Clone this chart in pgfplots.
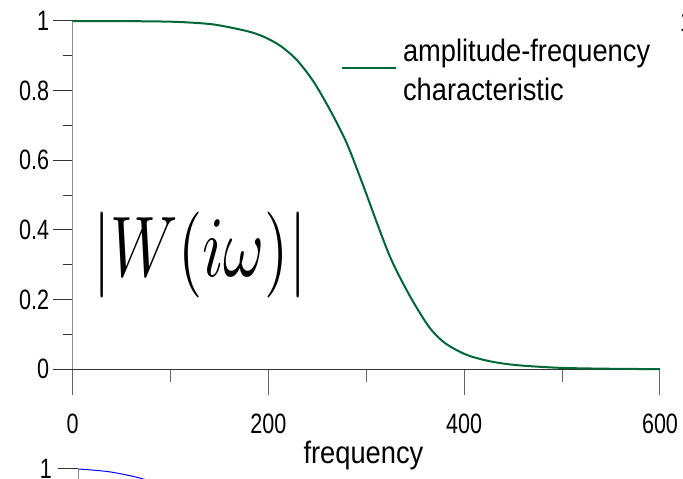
\documentclass[border=0pt]{standalone}
\usepackage{pgfplots}
\pgfplotsset{compat=1.18}
\usepackage{fontspec}
\setmainfont{Liberation Sans}
\newfontfamily\tickfont{Liberation Sans}[FakeStretch=0.77]
\newfontfamily\labfont{Liberation Sans}[FakeStretch=0.88]
\definecolor{curvegreen}{RGB}{0,104,55}
\begin{document}
\begin{tikzpicture}
\useasboundingbox (0,0) rectangle (683pt,479pt);
\clip (0,0) rectangle (683pt,479pt);
% x-axis part, curve, legend
\begin{axis}[
  at={(72.7pt,109.7pt)}, anchor=south west,
  scale only axis, width=587.3pt, height=348.3pt,
  xmin=0, xmax=600, ymin=0, ymax=1,
  axis x line*=bottom, axis y line=none,
  xtick={0,200,400,600}, minor xtick={100,300,500}, ytick=\empty,
  tick align=outside, major tick length=25.7pt, minor tick length=12.7pt,
  x axis line style={black!80, line width=1pt},
  xtick style={black!60, line width=1pt},
  /pgf/number format/assume math mode=true,
  ticklabel style={font=\tickfont\fontsize{28}{28}\selectfont},
  xticklabel style={yshift=-15pt},
  xlabel={frequency},
  xlabel style={at={(axis description cs:0.495,-0.2705)}, anchor=base, font=\labfont\fontsize{31}{31}\selectfont},
  clip=false,
  legend style={draw=none, fill=none, at={(axis description cs:0.4566,0.894)}, anchor=west,
    inner sep=0pt, font=\labfont\fontsize{31}{39}\selectfont, legend cell align=left},
  legend image code/.code={\draw[#1] (0pt,-10pt) -- (54pt,-10pt);},
]
\addplot[curvegreen, line width=2pt, smooth] coordinates {
(0,1) (50,0.9995) (80,0.999) (110,0.997) (144,0.990) (178,0.971) (195,0.955)
(212,0.929) (229,0.888) (246,0.826) (263,0.744) (280,0.649) (297,0.526)
(310.6,0.422) (324.2,0.323) (337.8,0.245) (351.4,0.177) (365,0.118) (378.6,0.079)
(392.3,0.055) (405.9,0.038) (426.3,0.023) (446.7,0.014) (467,0.009) (500,0.004)
(550,0.0015) (600,0.0005)
};
\addlegendentry{\begin{tabular}{@{\hspace{4pt}}l@{}}amplitude-frequency\\characteristic\end{tabular}}
\node at (axis description cs:0.2168,0.3296) {\scalebox{6.22}[8.6]{$|W(i\omega)|$}};
\end{axis}
% y-axis part
\begin{axis}[
  at={(72.7pt,109.7pt)}, anchor=south west,
  scale only axis, width=587.3pt, height=348.3pt,
  xmin=0, xmax=600, ymin=0, ymax=1,
  axis y line*=left, axis x line=none,
  xtick=\empty, ytick={0,0.2,0.4,0.6,0.8,1}, minor ytick={0.1,0.3,0.5,0.7,0.9},
  tick align=outside, major tick length=20pt, minor tick length=10pt,
  y axis line style={black!45, line width=1pt},
  ytick style={black!80, line width=1pt},
  /pgf/number format/assume math mode=true,
  ticklabel style={font=\tickfont\fontsize{28}{28}\selectfont},
]
\end{axis}
% second chart, cut off at the bottom
\begin{axis}[
  at={(78.3pt,10pt)}, anchor=north west,
  scale only axis, width=580pt, height=348pt,
  xmin=0, xmax=600, ymin=0, ymax=1,
  axis y line*=left, axis x line=none,
  xtick=\empty, ytick={1},
  tick align=outside, major tick length=20pt,
  y axis line style={black!45, line width=1pt},
  ytick style={black!80, line width=1pt},
  /pgf/number format/assume math mode=true,
  ticklabel style={font=\tickfont\fontsize{28}{28}\selectfont},
  yticklabel style={xshift=-3pt},
  clip=false,
]
\addplot[blue, line width=1pt, smooth] coordinates {
(0,1) (32,0.992) (65,0.973) (100,0.94) (150,0.87) (200,0.78)
};
\end{axis}
\node[font=\tickfont\fontsize{28}{28}\selectfont, anchor=north west, inner sep=0pt] at (680pt,467pt) {1};
\end{tikzpicture}
\end{document}
